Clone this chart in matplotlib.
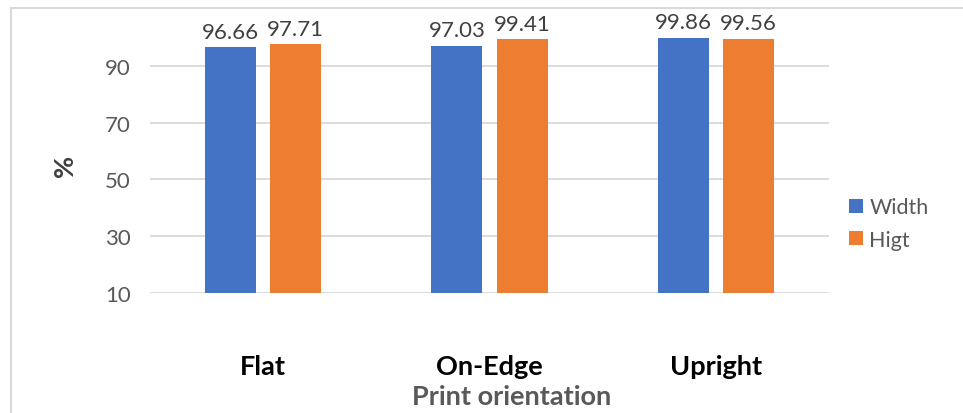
import numpy as np
import matplotlib
matplotlib.use("Agg")
import matplotlib.pyplot as plt
from matplotlib.lines import Line2D

# data
categories = ["Flat", "On-Edge", "Upright"]
series_names = ["Width", "Higt"]
width_vals = [96.66, 97.03, 99.86]
higt_vals = [97.71, 99.41, 99.56]
yticks = [10, 30, 50, 70, 90]

plt.rcParams['font.family'] = ['Lato', 'DejaVu Sans']

fig = plt.figure(figsize=(9.63, 4.14), dpi=100)
ax = fig.add_axes([150/963, 1-294/414, 679/963, (294-38.6)/414])

x = np.arange(len(categories))
bw = 0.226
off = 0.144
b1 = ax.bar(x - off, width_vals, bw, bottom=0, color='#4472C4', label=series_names[0], zorder=3)
b2 = ax.bar(x + off, higt_vals, bw, bottom=0, color='#ED7D31', label=series_names[1], zorder=3)

for bars in (b1, b2):
    ax.bar_label(bars, fmt='%.2f', padding=4, fontsize=16, color='#404040')

ax.set_xlim(-0.5, 2.5)
ax.set_ylim(10, 100)
ax.set_yticks(yticks)
ax.set_yticklabels([str(v) for v in yticks])
ax.set_xticks(x)
ax.set_xticklabels(categories, fontsize=19.5, fontweight='bold', color='black')
ax.tick_params(axis='x', length=0, pad=44)
ax.tick_params(axis='y', length=0, pad=14, labelsize=16, labelcolor='#595959')

for v in yticks:
    ax.axhline(v, color='#D9D9D9', lw=1.3, zorder=1)
for s in ax.spines.values():
    s.set_visible(False)

ax.set_ylabel('%', fontsize=19.5, fontweight='bold', color='#404040')
ax.yaxis.set_label_coords(-0.108, 0.5)
ax.set_xlabel('Print orientation', fontsize=19.5, fontweight='bold', color='#595959',
              va='center')
ax.xaxis.set_label_coords(0.533, -0.405)

fig.legend(handles=[b1, b2], labels=series_names, loc='center left',
           bbox_to_anchor=(849/963, 1-224.5/414), frameon=False,
           fontsize=15.5, labelcolor='#595959', handlelength=0.65, handleheight=0.65,
           handletextpad=0.3, labelspacing=0.58, borderpad=0, borderaxespad=0)

# chart border
fig.add_artist(Line2D([11/963, 11/963], [0, 1-9/414], color='#D9D9D9', lw=1.5))
fig.add_artist(Line2D([11/963, 1], [1-9/414, 1-9/414], color='#D9D9D9', lw=1.5))

fig.savefig('out.png', dpi=100)
